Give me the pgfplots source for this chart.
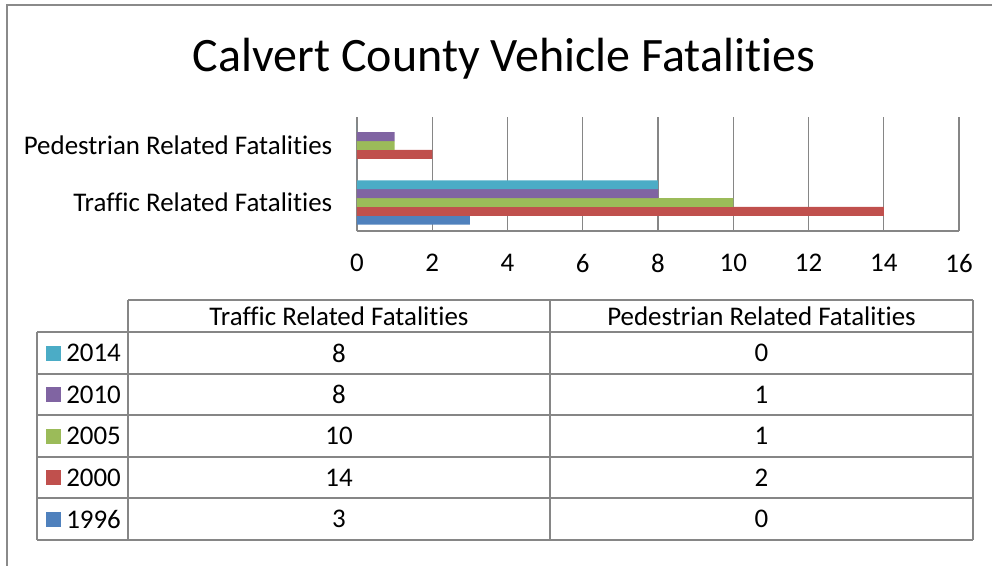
\documentclass[border=0pt]{standalone}
\usepackage{pgfplots}
\pgfplotsset{compat=1.18}
\usepackage{fontspec}
\setmainfont{Carlito}[Ligatures=NoCommon]
\definecolor{c1996}{HTML}{4F81BD}
\definecolor{c2000}{HTML}{C0504D}
\definecolor{c2005}{HTML}{9BBB59}
\definecolor{c2010}{HTML}{8064A2}
\definecolor{c2014}{HTML}{4BACC6}
\definecolor{gridg}{HTML}{868686}
\definecolor{frameg}{HTML}{8A8A8A}
\newcommand{\lab}{\fontsize{20.2pt}{24pt}\selectfont}
\begin{document}
\begin{tikzpicture}
\path[use as bounding box] (0,0) rectangle (744pt,-423.75pt);
\begin{axis}[
  at={(267.75pt,-173.25pt)}, anchor=south west,
  width=451.5pt, height=85.5pt, scale only axis,
  xbar, bar width=0.156,
  xmin=0, xmax=16, ymin=-0.5, ymax=1.5,
  xtick={0,2,...,16}, ytick={0,1},
  yticklabels={Traffic Related Fatalities, Pedestrian Related Fatalities},
  /pgf/number format/assume math mode=true,
  ticklabel style={font=\lab},
  xticklabel style={yshift=-14pt},
  yticklabel style={xshift=-15pt},
  major tick length=0pt,
  xmajorgrids, grid style={gridg, line width=1pt},
  axis x line*=bottom, axis y line*=left,
  axis line style={gridg, line width=1pt, -},
  clip=false,
]
\addplot[fill=c1996, draw=none, bar shift=-0.312] coordinates {(3,0) (0,1)};
\addplot[fill=c2000, draw=none, bar shift=-0.156] coordinates {(14,0) (2,1)};
\addplot[fill=c2005, draw=none, bar shift=0] coordinates {(10,0) (1,1)};
\addplot[fill=c2010, draw=none, bar shift=0.156] coordinates {(8,0) (1,1)};
\addplot[fill=c2014, draw=none, bar shift=0.312] coordinates {(8,0) (0,1)};
\end{axis}
\begin{scope}[x=0.75pt,y=-0.75pt]
% outer frame
\draw[frameg, line width=1.2pt] (7,570) -- (7,5) -- (995,5);
% title
\node[font=\fontsize{36pt}{42pt}\selectfont] at (504,59) {Calvert County Vehicle Fatalities};
% table
\begin{scope}[gridg, line width=1.1pt]
\draw (128,300) -- (973,300);
\foreach \y in {332,374,415,457,498,540} \draw (37,\y) -- (973,\y);
\draw (37,332) -- (37,540);
\foreach \x in {128,550,973} \draw (\x,300) -- (\x,540);
\end{scope}
\node[font=\lab] at (339,316) {Traffic Related Fatalities};
\node[font=\lab] at (761.5,316) {Pedestrian Related Fatalities};
\foreach \yr/\col/\t/\p/\yc in {2014/c2014/8/0/353, 2010/c2010/8/1/394.5, 2005/c2005/10/1/436, 2000/c2000/14/2/477.5, 1996/c1996/3/0/519}{
  \fill[\col] (46,\yc-7.5) rectangle (61,\yc+7.5);
  \node[font=\lab, anchor=west, inner sep=0pt] at (66,\yc) {\yr};
  \node[font=\lab] at (339,\yc) {\t};
  \node[font=\lab] at (761.5,\yc) {\p};
}
\end{scope}
\end{tikzpicture}
\end{document}
